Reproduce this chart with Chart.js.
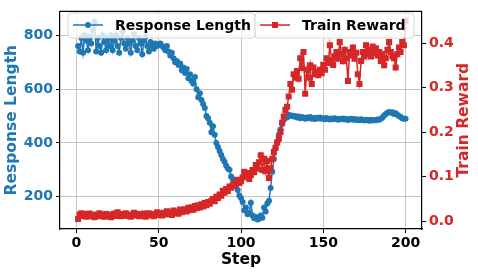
<!DOCTYPE html>
<html>
<head>
<meta charset="utf-8">
<script src="https://cdn.jsdelivr.net/npm/chart.js@4/dist/chart.umd.min.js"></script>
<style>
  body { margin: 0; background: #fff; }
  #wrap { width: 478px; height: 274px; }
</style>
</head>
<body>
<div id="wrap"><canvas id="c" width="478" height="274"></canvas></div>
<script>
// values, one per step (1..200)
const responseLength = [
  760, 740, 790, 735, 800, 780, 745, 795, 770, 820, 850, 740, 790, 760, 735, 800, 775, 745, 790, 760,
  800, 745, 780, 800, 760, 735, 790, 815, 770, 750, 790, 770, 735, 780, 805, 760, 745, 790, 770, 730,
  780, 795, 760, 740, 775, 760, 750, 770, 760, 765, 770, 760, 755, 745, 760, 740, 725, 735, 715, 700,
  705, 690, 695, 670, 680, 660, 675, 640, 655, 630, 620, 645, 600, 570, 585, 560, 545, 530, 500, 492,
  475, 440, 462, 430, 400, 385, 370, 355, 340, 330, 315, 305, 300, 275, 265, 250, 240, 225, 205, 195,
  180, 150, 160, 135, 140, 178, 130, 120, 125, 115, 118, 130, 122, 160, 145, 175, 185, 232, 293, 340,
  380, 400, 430, 450, 470, 485, 498, 495, 505, 500, 502, 498, 500, 495, 498, 492, 496, 494, 490, 495,
  492, 496, 490, 493, 489, 494, 491, 495, 490, 492, 488, 493, 490, 487, 491, 488, 492, 489, 486, 490,
  488, 491, 487, 489, 485, 488, 490, 486, 489, 485, 487, 484, 488, 485, 483, 486, 484, 482, 486, 483,
  485, 484, 487, 486, 490, 495, 502, 508, 512, 515, 512, 514, 508, 510, 505, 500, 496, 492, 490, 490
];
const trainReward = [
  0.005, 0.015, 0.018, 0.012, 0.016, 0.010, 0.014, 0.017, 0.011, 0.013, 0.009, 0.015, 0.012, 0.018, 0.011, 0.014, 0.010, 0.016, 0.012, 0.015,
  0.009, 0.013, 0.017, 0.012, 0.020, 0.014, 0.011, 0.016, 0.013, 0.018, 0.012, 0.015, 0.010, 0.014, 0.019, 0.013, 0.016, 0.011, 0.015, 0.012,
  0.017, 0.010, 0.014, 0.018, 0.013, 0.016, 0.011, 0.015, 0.020, 0.014, 0.017, 0.013, 0.019, 0.015, 0.022, 0.016, 0.020, 0.014, 0.024, 0.018,
  0.021, 0.017, 0.026, 0.020, 0.023, 0.027, 0.022, 0.030, 0.025, 0.031, 0.026, 0.034, 0.029, 0.036, 0.031, 0.038, 0.033, 0.041, 0.036, 0.043,
  0.039, 0.046, 0.050, 0.045, 0.055, 0.052, 0.060, 0.057, 0.068, 0.064, 0.072, 0.068, 0.078, 0.075, 0.082, 0.079, 0.088, 0.093, 0.086, 0.090,
  0.098, 0.111, 0.100, 0.108, 0.095, 0.104, 0.115, 0.110, 0.126, 0.118, 0.132, 0.148, 0.115, 0.140, 0.112, 0.135, 0.097, 0.119, 0.140, 0.155,
  0.165, 0.177, 0.185, 0.200, 0.221, 0.235, 0.250, 0.257, 0.280, 0.308, 0.295, 0.330, 0.322, 0.337, 0.320, 0.366, 0.344, 0.380, 0.286, 0.340,
  0.322, 0.350, 0.308, 0.345, 0.330, 0.335, 0.328, 0.340, 0.332, 0.351, 0.340, 0.366, 0.355, 0.395, 0.362, 0.351, 0.370, 0.380, 0.365, 0.402,
  0.375, 0.359, 0.385, 0.366, 0.315, 0.380, 0.372, 0.390, 0.365, 0.378, 0.330, 0.308, 0.360, 0.380, 0.370, 0.395, 0.375, 0.385, 0.370, 0.392,
  0.378, 0.388, 0.372, 0.380, 0.360, 0.375, 0.350, 0.366, 0.385, 0.402, 0.380, 0.370, 0.366, 0.345, 0.375, 0.390, 0.380, 0.402, 0.395, 0.450
];
const steps = responseLength.map((_, i) => i + 1);
const stepTicks = [0, 50, 100, 150, 200];
const lengthTicks = [200, 400, 600, 800];
const rewardTicks = [0, 0.1, 0.2, 0.3, 0.4];

const BLUE = '#1f77b4';
const RED = '#d62728';
const FONT = 'DejaVu Sans';
const gridCol = 'rgba(176,176,176,0.75)';

// matplotlib-style legends inside the axes, top spine, right title read bottom-up
const overlay = {
  id: 'overlay',
  afterDraw(chart) {
    const ctx = chart.ctx;
    const a = chart.chartArea;
    ctx.save();
    ctx.strokeStyle = '#000';
    ctx.lineWidth = 1.2;
    ctx.beginPath();
    ctx.moveTo(a.left, a.top);
    ctx.lineTo(a.right, a.top);
    ctx.stroke();

    // right axis title
    ctx.save();
    ctx.translate(464, (a.top + a.bottom) / 2);
    ctx.rotate(-Math.PI / 2);
    ctx.fillStyle = RED;
    ctx.font = 'bold 15.5px ' + FONT;
    ctx.textAlign = 'center';
    ctx.textBaseline = 'middle';
    ctx.fillText('Train Reward', 0, 0);
    ctx.restore();

    function box(x, y, w, h) {
      ctx.beginPath();
      ctx.roundRect(x, y, w, h, 3);
      ctx.fillStyle = 'rgba(255,255,255,0.8)';
      ctx.fill();
      ctx.strokeStyle = 'rgba(204,204,204,0.8)';
      ctx.lineWidth = 1;
      ctx.stroke();
    }
    function entry(x, y, color, marker, text) {
      ctx.strokeStyle = color;
      ctx.fillStyle = color;
      ctx.lineWidth = 1.5;
      ctx.beginPath();
      ctx.moveTo(x, y);
      ctx.lineTo(x + 30, y);
      ctx.stroke();
      if (marker === 'circle') {
        ctx.beginPath();
        ctx.arc(x + 15, y, 3, 0, Math.PI * 2);
        ctx.fill();
      } else {
        ctx.fillRect(x + 12, y - 3, 6, 6);
      }
      ctx.fillStyle = '#000';
      ctx.font = 'bold 14px ' + FONT;
      ctx.textBaseline = 'middle';
      ctx.fillText(text, x + 42, y + 1);
    }
    box(68, 13, 187, 25);
    entry(73, 25, BLUE, 'circle', 'Response Length');
    box(255, 13, 159, 25);
    entry(260, 25, RED, 'rect', 'Train Reward');
    ctx.restore();
  }
};

new Chart(document.getElementById('c'), {
  type: 'line',
  data: {
    labels: steps,
    datasets: [
      {
        label: 'Train Reward',
        data: steps.map((s, i) => ({ x: s, y: trainReward[i] })),
        yAxisID: 'y1',
        borderColor: RED,
        backgroundColor: RED,
        borderWidth: 1.5,
        pointStyle: 'rect',
        pointRadius: 4.3,
        pointBorderWidth: 0,
        tension: 0,
        order: 1
      },
      {
        label: 'Response Length',
        data: steps.map((s, i) => ({ x: s, y: responseLength[i] })),
        yAxisID: 'y',
        borderColor: BLUE,
        backgroundColor: BLUE,
        borderWidth: 1.5,
        pointStyle: 'circle',
        pointRadius: 3,
        pointBorderWidth: 0,
        tension: 0,
        order: 2
      }
    ]
  },
  options: {
    responsive: false,
    animation: false,
    layout: { padding: { top: 5, left: 0, right: 0, bottom: 0 } },
    plugins: {
      legend: { display: false },
      tooltip: { enabled: false }
    },
    scales: {
      x: {
        type: 'linear',
        min: -10,
        max: 210,
        afterBuildTicks: s => { s.ticks = stepTicks.map(v => ({ value: v })); },
        afterFit: s => { s.height = 45; },
        grid: { color: gridCol, lineWidth: 1, tickLength: 4, tickColor: '#000' },
        border: { color: '#000', width: 1.2 },
        ticks: { color: '#000', font: { family: FONT, size: 14, weight: 'bold' }, padding: 2, maxRotation: 0 },
        title: { display: true, text: 'Step', color: '#000', font: { family: FONT, size: 15.5, weight: 'bold' }, padding: { top: 0, bottom: 5 } }
      },
      y: {
        position: 'left',
        min: 80,
        max: 889,
        afterBuildTicks: s => { s.ticks = lengthTicks.map(v => ({ value: v })); },
        afterFit: s => { s.width = 60; },
        grid: { color: gridCol, lineWidth: 1, tickLength: 4, tickColor: '#000' },
        border: { color: '#000', width: 1.2 },
        ticks: { color: BLUE, font: { family: FONT, size: 14, weight: 'bold' }, padding: 3 },
        title: { display: true, text: 'Response Length', color: BLUE, font: { family: FONT, size: 15.5, weight: 'bold' }, padding: { top: 3, bottom: 0 } }
      },
      y1: {
        position: 'right',
        min: -0.0175,
        max: 0.471,
        afterBuildTicks: s => { s.ticks = rewardTicks.map(v => ({ value: v })); },
        afterFit: s => { s.width = 56; },
        grid: { drawOnChartArea: false, tickLength: 4, tickColor: '#000' },
        border: { color: '#000', width: 1.2 },
        ticks: { color: RED, font: { family: FONT, size: 14, weight: 'bold' }, padding: 3, callback: v => v.toFixed(1) },
        title: { display: false }
      }
    }
  },
  plugins: [overlay]
});
</script>
</body>
</html>
